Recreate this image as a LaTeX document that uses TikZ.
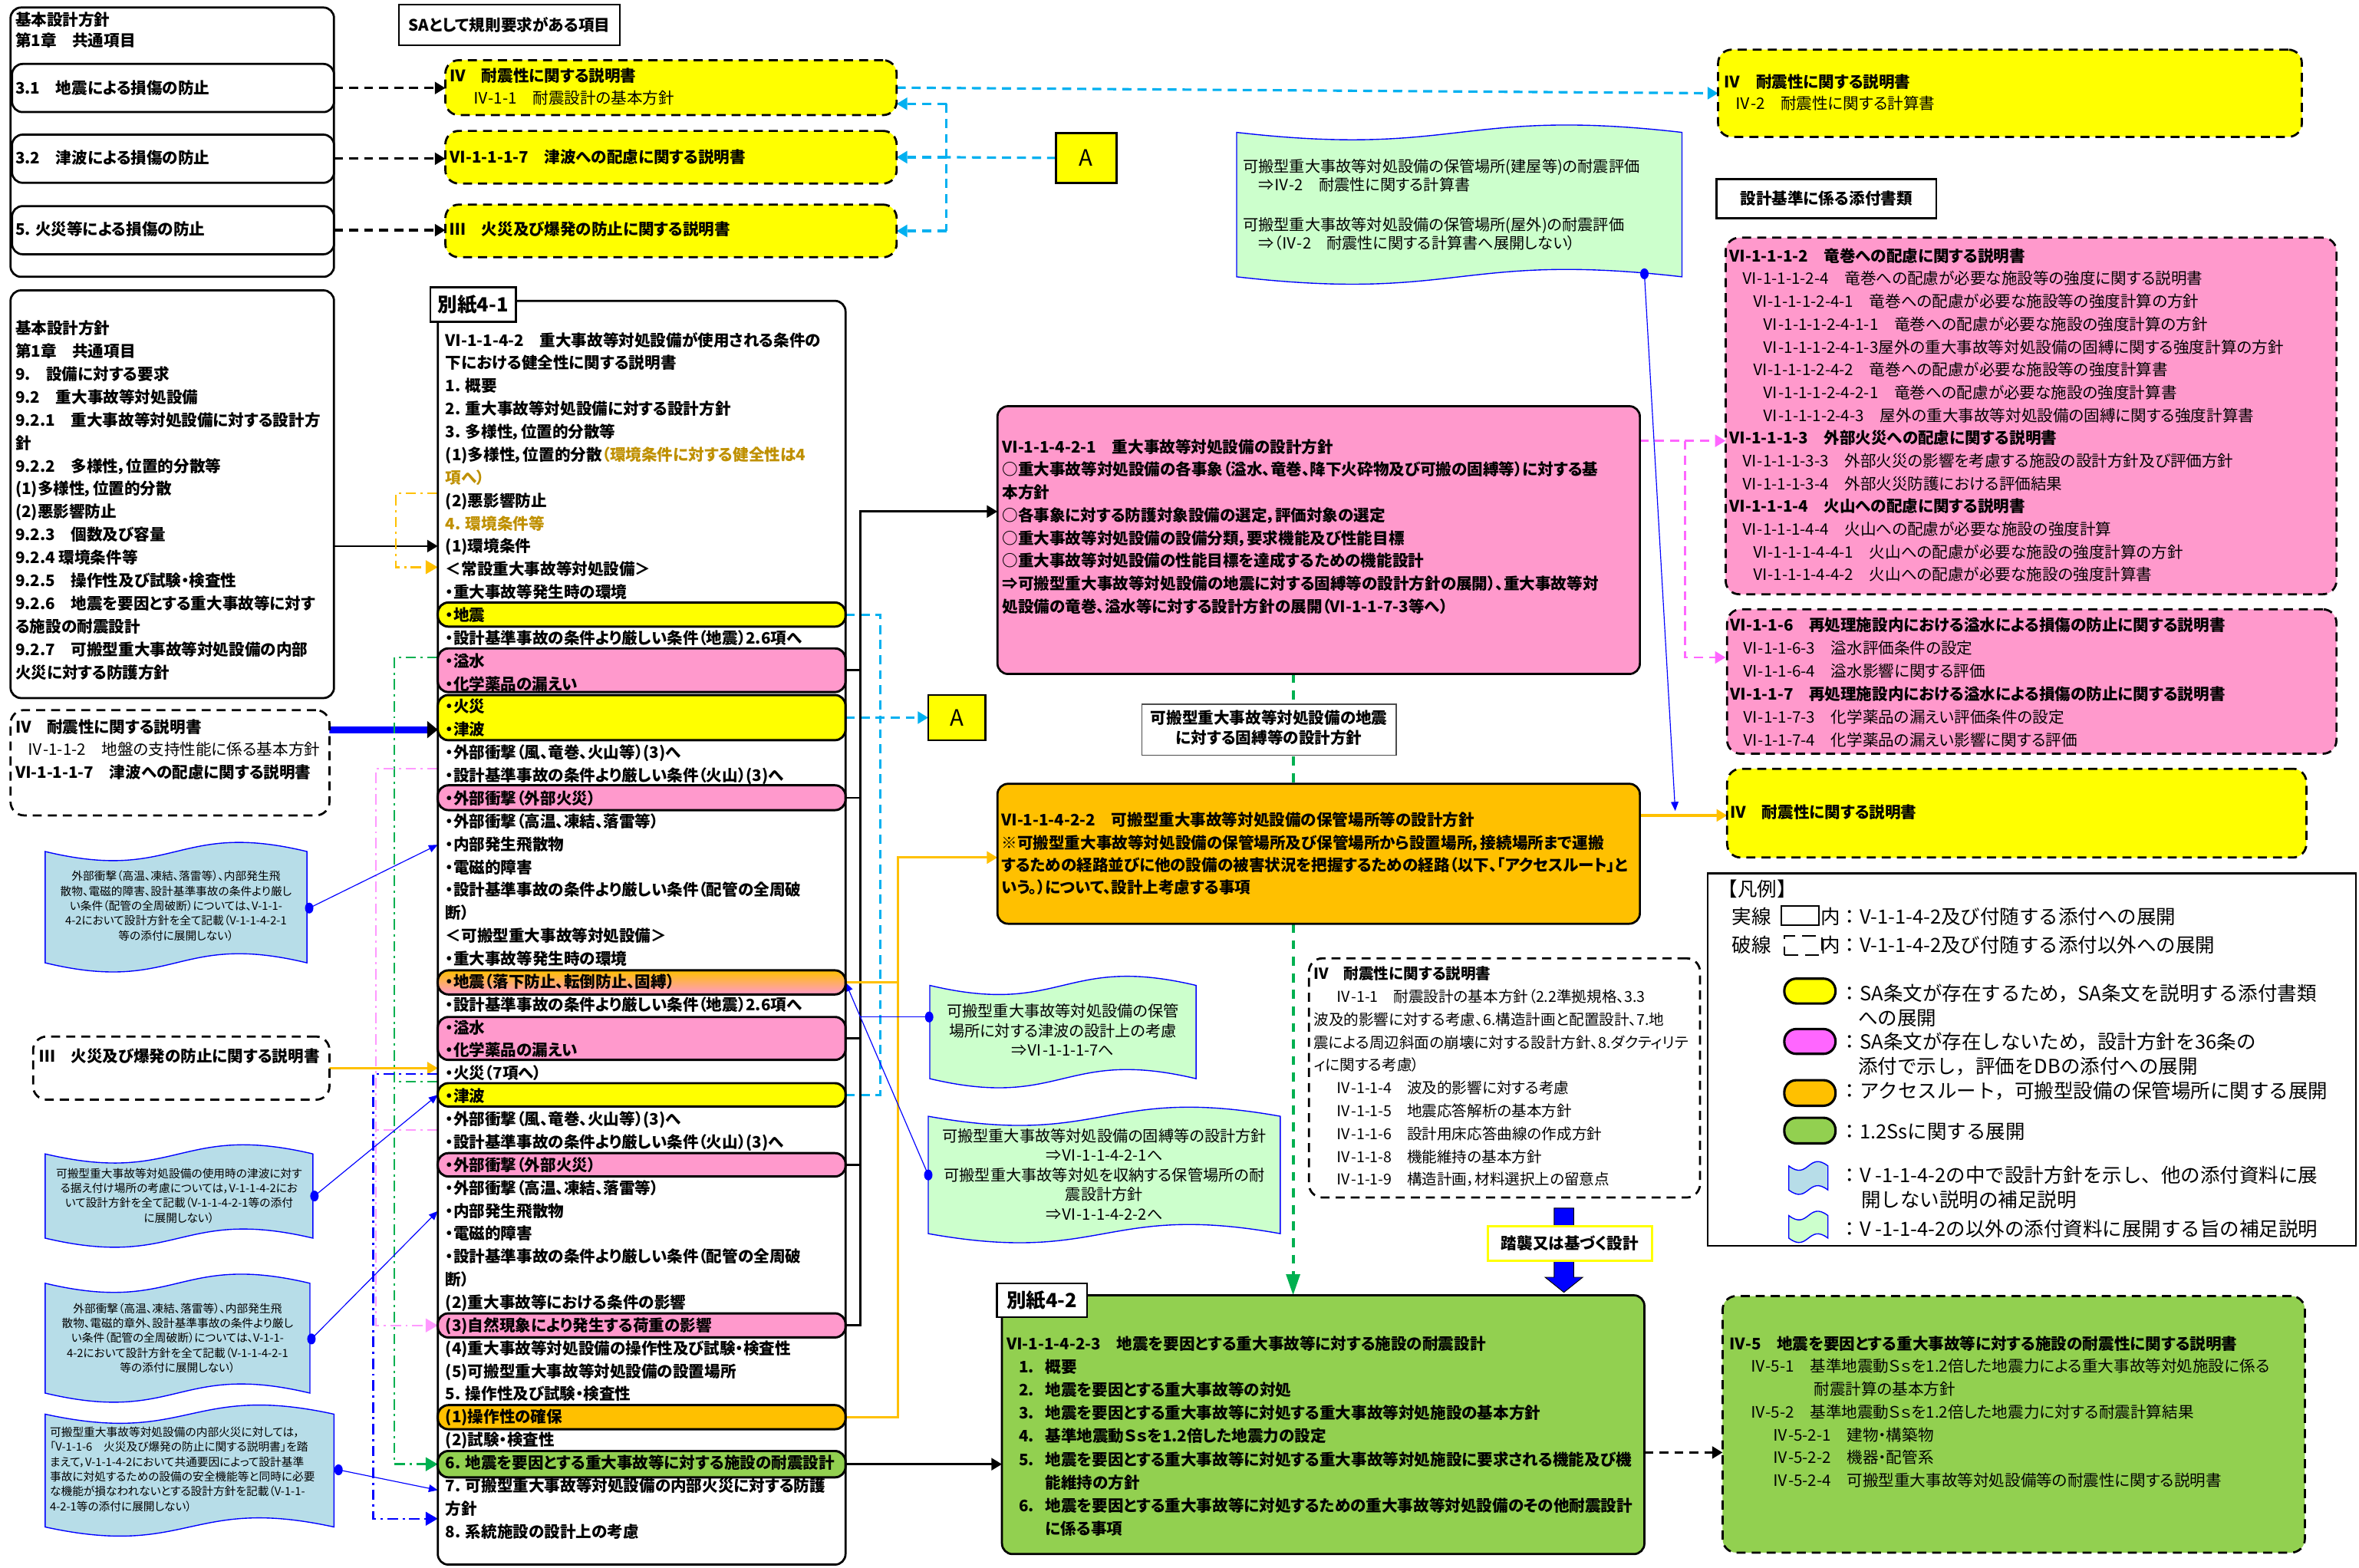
\documentclass[tikz,border=0pt]{standalone}
\usepackage{fontspec}
\setmainfont{Noto Sans CJK JP}[RawFeature={+palt}]
\newfontfamily\legfont{Noto Sans CJK JP}
\usetikzlibrary{arrows.meta}
\pgfdeclarelayer{bg}
\pgfsetlayers{bg,main}

\definecolor{cyellow}{HTML}{FFFF00}
\definecolor{cpink}{HTML}{FF99CC}
\definecolor{cmag}{HTML}{FF66FF}
\definecolor{corange}{HTML}{FFC000}
\definecolor{cgreen}{HTML}{92D050}
\definecolor{clblue}{HTML}{B7DDE8}
\definecolor{clgreen}{HTML}{CCFFCC}
\definecolor{ccyan}{HTML}{00B0F0}
\definecolor{cgold}{HTML}{BF9000}
\definecolor{cpinkl}{HTML}{FF99FF}
\definecolor{cdgreen}{HTML}{00B050}

\newcommand\fB{\fontsize{10.5}{15.23}\selectfont\bfseries}
\newcommand\fN{\fontsize{10.5}{15.23}\selectfont}
\newcommand\fL{\legfont\fontsize{13}{16}\selectfont}
\newcommand\fS{\fontsize{7.5}{9.85}\selectfont}

% multi-line blocks whose baseline is the first line
\newcommand\ml[1]{\begin{tabular}[t]{@{}l@{}}#1\end{tabular}}
\newcommand\mc[1]{\begin{tabular}[t]{@{}c@{}}#1\end{tabular}}

% rectangle node given by its top-left and bottom-right corners
\newcommand\mkbox[6]{%
  \pgfmathsetmacro\bxw{#5-#3}\pgfmathsetmacro\bxh{#6-#4}%
  \node[#1,anchor=north west,minimum width=\bxw pt,minimum height=\bxh pt,
        inner sep=0pt,outer sep=0pt] (#2) at (#3,#4) {};}

% wavy "punched tape" note: name, fill, x1, top, x2, bottom, wave control offset
\newcommand\wavedoc[7]{%
  \pgfmathsetmacro\wvm{(#3+#5)/2}%
  \pgfmathsetmacro\wvta{#4+#7}\pgfmathsetmacro\wvtb{#4-#7}%
  \pgfmathsetmacro\wvba{#6+#7}\pgfmathsetmacro\wvbb{#6-#7}%
  \pgfmathsetmacro\wvc{(#4+#6)/2}%
  \draw[draw=blue, line width=0.7pt, fill=#2]
    (#3,#4) .. controls (\wvm,\wvta) and (\wvm,\wvtb) .. (#5,#4)
    -- (#5,#6) .. controls (\wvm,\wvbb) and (\wvm,\wvba) .. (#3,#6) -- cycle;
  \coordinate (#1) at (\wvm,\wvc);}

\tikzset{
  solidbox/.style={draw=black, line width=1.4pt, rounded corners=7pt, fill=white},
  dashbox/.style={draw=black, line width=1.4pt, dash pattern=on 6pt off 4pt, rounded corners=9pt, fill=white},
  rowbox/.style={draw=black, line width=1.5pt, rounded corners=7pt},
  tagbox/.style={draw=black, line width=1.3pt, fill=white},
  pill/.style={draw=black, line width=1.6pt, rounded corners=8pt},
  tb/.style={anchor=base west, inner sep=0pt, font=\fB},
  tn/.style={anchor=base west, inner sep=0pt, font=\fN},
  tc/.style={anchor=base, inner sep=0pt},
  arw/.style={-{Triangle[length=7pt,width=8pt]}},
  arwL/.style={-{Triangle[length=8pt,width=9pt]}},
  arwS/.style={-{Triangle[length=6pt,width=5pt]}},
  blk/.style={draw=black, line width=1.4pt},
  blkdash/.style={draw=black, line width=1.6pt, dash pattern=on 6pt off 4pt},
  cydash/.style={draw=ccyan, line width=1.6pt, dash pattern=on 6pt off 4pt},
  mgdash/.style={draw=cmag, line width=1.4pt, dash pattern=on 6pt off 4pt},
  grdash/.style={draw=cdgreen, line width=2pt, dash pattern=on 6pt off 5pt},
  ddline/.style={line width=1.2pt, dash pattern=on 7pt off 3pt on 1.5pt off 3pt},
  orline/.style={draw=corange, line width=1.6pt},
  bthin/.style={draw=blue, line width=0.6pt},
}

\begin{document}
\begin{tikzpicture}[x=1pt,y=-1pt]
\useasboundingbox (0,0) rectangle (1568,1042);
\begin{pgfonlayer}{bg}
\fill[white] (0,0) rectangle (1568,1042);
\end{pgfonlayer}

%---------------- top left: basic design policy, chapter 1 ----------------
\mkbox{solidbox}{L1}{7}{5}{222}{184}
\node[tb, font=\fontsize{10.5}{13.6}\selectfont\bfseries] (L1t) at (10,17) {\ml{基本設計方針\\第1章　共通項目}};
\mkbox{solidbox}{in31}{8}{42.5}{222}{74.5}
\node[tb] (in31t) at (10,62.5) {3.1　地震による損傷の防止};
\mkbox{solidbox}{in32}{8}{89.5}{222}{121.5}
\node[tb] (in32t) at (10,109) {3.2　津波による損傷の防止};
\mkbox{solidbox}{in5}{8}{137}{222}{169}
\node[tb] (in5t) at (10,156.5) {5. 火災等による損傷の防止};

\mkbox{draw=black, line width=1.2pt}{SAh}{265}{3}{412}{30}
\node[font=\fB] (SAt) at (SAh.center) {SAとして規則要求がある項目};

\mkbox{dashbox,fill=cyellow}{Y1}{296}{40}{596}{76.5}
\node[tb] (Y1a) at (299,54.4) {Ⅳ　耐震性に関する説明書};
\node[tn] (Y1b) at (314,69.1) {Ⅳ-1-1　耐震設計の基本方針};
\mkbox{dashbox,fill=cyellow}{Y2}{296}{87}{596}{122}
\node[tb] (Y2a) at (299,108.2) {Ⅵ-1-1-1-7　津波への配慮に関する説明書};
\mkbox{dashbox,fill=cyellow}{Y3}{296}{136}{596}{171}
\node[tb] (Y3a) at (299,156.3) {Ⅲ　火災及び爆発の防止に関する説明書};

\mkbox{draw=black, line width=1.4pt, fill=cyellow}{A1}{702}{88.5}{742}{121.5}
\node[font=\fontsize{15}{17}\selectfont] (A1t) at (A1.center) {A};

%---------------- left column ----------------
\mkbox{solidbox}{L2}{7}{193}{222}{464}
\node[tb, font=\fontsize{10.5}{15.27}\selectfont\bfseries] (L2t) at (10,222) {\ml{基本設計方針\\第1章　共通項目\\9.　設備に対する要求\\9.2　重大事故等対処設備\\9.2.1　重大事故等対処設備に対する設計方\\針\\9.2.2　多様性，位置的分散等\\(1)多様性，位置的分散\\(2)悪影響防止\\9.2.3　個数及び容量\\9.2.4 環境条件等\\9.2.5　操作性及び試験・検査性\\9.2.6　地震を要因とする重大事故等に対す\\る施設の耐震設計\\9.2.7　可搬型重大事故等対処設備の内部\\火災に対する防護方針}};

\mkbox{dashbox}{L3}{7}{472}{219}{542}
\node[tn, font=\fontsize{10.5}{15.1}\selectfont] (L3t) at (10,487) {\ml{\textbf{Ⅳ　耐震性に関する説明書}\\\hspace*{8pt}Ⅳ-1-1-2　地盤の支持性能に係る基本方針\\\textbf{Ⅵ-1-1-1-7　津波への配慮に関する説明書}}};

\mkbox{dashbox}{L4}{22}{689}{219}{731}
\node[tb] (L4t) at (26,706) {Ⅲ　火災及び爆発の防止に関する説明書};

\wavedoc{b1}{clblue}{30}{566}{204}{640}{21}
\node[tc, font=\fS] (b1t) at (117,585.3) {\mc{外部衝撃（高温、凍結、落雷等）、内部発生飛\\散物、電磁的障害、設計基準事故の条件より厳し\\い条件（配管の全周破断）については、V-1-1-\\4-2において設計方針を全て記載（V-1-1-4-2-1\\等の添付に展開しない）}};
\wavedoc{b2}{clblue}{30}{767}{208}{823}{21}
\node[tc, font=\fS] (b2t) at (119,782.8) {\mc{可搬型重大事故等対処設備の使用時の津波に対す\\る据え付け場所の考慮については，V-1-1-4-2にお\\いて設計方針を全て記載（V-1-1-4-2-1等の添付\\に展開しない）}};
\wavedoc{b3}{clblue}{30}{853}{206}{926}{21}
\node[tc, font=\fS] (b3t) at (118,872.6) {\mc{外部衝撃（高温、凍結、落雷等）、内部発生飛\\散物、電磁的章外、設計基準事故の条件より厳し\\い条件（配管の全周破断）については、V-1-1-\\4-2において設計方針を全て記載（V-1-1-4-2-1\\等の添付に展開しない）}};
\wavedoc{b4}{clblue}{30}{940}{222}{1015}{21}
\node[anchor=base west, inner sep=0pt, font=\fS] (b4t) at (33,954.8) {\ml{可搬型重大事故等対処設備の内部火災に対しては，\\「V-1-1-6　火災及び爆発の防止に関する説明書」を踏\\まえて，V-1-1-4-2において共通要因によって設計基準\\事故に対処するための設備の安全機能等と同時に必要\\な機能が損なわれないとする設計方針を記載（V-1-1-\\4-2-1等の添付に展開しない）}};

%---------------- attachment 4-1 ----------------
\mkbox{solidbox}{mainA}{291}{200}{562}{1040}
\mkbox{rowbox,fill=cyellow}{rJ1}{291}{400.5}{562}{416.5}
\mkbox{rowbox,fill=cpink}{rSuiA}{291}{431}{562}{460}
\mkbox{rowbox,fill=cyellow}{rKT}{291}{462}{562}{492}
\mkbox{rowbox,fill=cpink}{rGK1}{291}{522}{562}{538.5}
\mkbox{rowbox,top color=corange,bottom color=cpink}{rJ2}{291}{645}{562}{661}
\mkbox{rowbox,fill=cpink}{rSuiB}{291}{676}{562}{704.5}
\mkbox{rowbox,fill=cyellow}{rT2}{291}{720}{562}{735.5}
\mkbox{rowbox,fill=cpink}{rGK2}{291}{766.5}{562}{782}
\mkbox{rowbox,fill=cpink}{rSz}{291}{873}{562}{889}
\mkbox{rowbox,fill=corange}{rSousa}{291}{934}{562}{950}
\mkbox{rowbox,fill=cgreen}{r6}{291}{964.5}{562}{982}

\node[tb] (mainT) at (296,230) {\ml{Ⅵ-1-1-4-2　重大事故等対処設備が使用される条件の\\下における健全性に関する説明書\\1. 概要\\2. 重大事故等対処設備に対する設計方針\\3. 多様性，位置的分散等\\(1)多様性，位置的分散{\color{cgold}（環境条件に対する健全性は4}\\{\color{cgold}項へ）}\\(2)悪影響防止\\{\color{cgold}4. 環境条件等}\\(1)環境条件\\＜常設重大事故等対処設備＞\\・重大事故等発生時の環境\\・地震\\・設計基準事故の条件より厳しい条件（地震）2.6項へ\\・溢水\\・化学薬品の漏えい\\・火災\\・津波\\・外部衝撃（風、竜巻、火山等）(3)へ\\・設計基準事故の条件より厳しい条件（火山）(3)へ\\・外部衝撃（外部火災）\\・外部衝撃（高温、凍結、落雷等）\\・内部発生飛散物\\・電磁的障害\\・設計基準事故の条件より厳しい条件（配管の全周破\\断）\\＜可搬型重大事故等対処設備＞\\・重大事故等発生時の環境\\・地震（落下防止、転倒防止、固縛）\\・設計基準事故の条件より厳しい条件（地震）2.6項へ\\・溢水\\・化学薬品の漏えい\\・火災（7項へ）\\・津波\\・外部衝撃（風、竜巻、火山等）(3)へ\\・設計基準事故の条件より厳しい条件（火山）(3)へ\\・外部衝撃（外部火災）\\・外部衝撃（高温、凍結、落雷等）\\・内部発生飛散物\\・電磁的障害\\・設計基準事故の条件より厳しい条件（配管の全周破\\断）\\(2)重大事故等における条件の影響\\(3)自然現象により発生する荷重の影響\\(4)重大事故等対処設備の操作性及び試験・検査性\\(5)可搬型重大事故等対処設備の設置場所\\5. 操作性及び試験・検査性\\(1)操作性の確保\\(2)試験・検査性\\6. 地震を要因とする重大事故等に対する施設の耐震設計\\7. 可搬型重大事故等対処設備の内部火災に対する防護\\方針\\8. 系統施設の設計上の考慮}};

\mkbox{tagbox}{MAh}{286}{191}{343}{214}
\node[font=\fontsize{13}{15}\selectfont\bfseries] (MAht) at (MAh.center) {別紙4-1};

\mkbox{draw=black, line width=1.4pt, fill=cyellow}{A2}{617}{462}{655}{492}
\node[font=\fontsize{15}{17}\selectfont] (A2t) at (A2.center) {A};

%---------------- middle column ----------------
\wavedoc{gdoc}{clgreen}{822}{88}{1118}{184}{17}
\node[tn, font=\fontsize{10.3}{12.4}\selectfont] (gdocA) at (826,114.5) {\ml{可搬型重大事故等対処設備の保管場所(建屋等)の耐震評価\\　⇒Ⅳ-2　耐震性に関する計算書}};
\node[tn, font=\fontsize{10.3}{12.4}\selectfont] (gdocB) at (826,153) {\ml{可搬型重大事故等対処設備の保管場所(屋外)の耐震評価\\　⇒（Ⅳ-2　耐震性に関する計算書へ展開しない）}};

\mkbox{solidbox,fill=cpink}{PM}{663}{270}{1090}{448}
\node[tb, font=\fontsize{10.5}{15.14}\selectfont\bfseries] (PMt) at (666,301) {\ml{Ⅵ-1-1-4-2-1　重大事故等対処設備の設計方針\\○重大事故等対処設備の各事象（溢水、竜巻、降下火砕物及び可搬の固縛等）に対する基\\本方針\\○各事象に対する防護対象設備の選定，評価対象の選定\\○重大事故等対処設備の設備分類，要求機能及び性能目標\\○重大事故等対処設備の性能目標を達成するための機能設計\\⇒可搬型重大事故等対処設備の地震に対する固縛等の設計方針の展開）、重大事故等対\\処設備の竜巻、溢水等に対する設計方針の展開（Ⅵ-1-1-7-3等へ）}};

\mkbox{solidbox,fill=corange}{OM}{663}{521}{1090}{614}
\node[tb, font=\fontsize{10.5}{15}\selectfont\bfseries] (OMt) at (665.5,549) {\ml{Ⅵ-1-1-4-2-2　可搬型重大事故等対処設備の保管場所等の設計方針\\※可搬型重大事故等対処設備の保管場所及び保管場所から設置場所，接続場所まで運搬\\するための経路並びに他の設備の被害状況を把握するための経路（以下、「アクセスルート」と\\いう。）について、設計上考慮する事項}};

\wavedoc{w1}{clgreen}{618}{655}{795}{717}{21}
\node[tc, font=\fontsize{10.3}{13}\selectfont] (w1t) at (706.5,676) {\mc{可搬型重大事故等対処設備の保管\\場所に対する津波の設計上の考慮\\⇒Ⅵ-1-1-1-7へ}};
\wavedoc{w2}{clgreen}{617}{742}{851}{820}{21}
\node[tc, font=\fontsize{10.3}{13}\selectfont] (w2t) at (734,759) {\mc{可搬型重大事故等対処設備の固縛等の設計方針\\⇒Ⅵ-1-1-4-2-1へ\\可搬型重大事故等対処を収納する保管場所の耐\\震設計方針\\⇒Ⅵ-1-1-4-2-2へ}};

\mkbox{dashbox}{IVm}{870}{637}{1130}{796}
\node[tn, font=\fontsize{10}{15.2}\selectfont] (IVmt) at (873,651) {\ml{\textbf{Ⅳ　耐震性に関する説明書}\\\hspace*{15pt}Ⅳ-1-1　耐震設計の基本方針（2.2準拠規格、3.3\\波及的影響に対する考慮、6.構造計画と配置設計、7.地\\震による周辺斜面の崩壊に対する設計方針、8.ダクティリテ\\ィに関する考慮）\\\hspace*{15pt}Ⅳ-1-1-4　波及的影響に対する考慮\\\hspace*{15pt}Ⅳ-1-1-5　地震応答解析の基本方針\\\hspace*{15pt}Ⅳ-1-1-6　設計用床応答曲線の作成方針\\\hspace*{15pt}Ⅳ-1-1-8　機能維持の基本方針\\\hspace*{15pt}Ⅳ-1-1-9　構造計画，材料選択上の留意点}};

\mkbox{solidbox,fill=cgreen}{G1}{666}{861}{1093}{1033}
\node[tb, font=\fontsize{10.5}{15.4}\selectfont\bfseries] (G1t) at (669,897) {\ml{Ⅵ-1-1-4-2-3　地震を要因とする重大事故等に対する施設の耐震設計\\\hspace*{8pt}\makebox[17.6pt][l]{1.}概要\\\hspace*{8pt}\makebox[17.6pt][l]{2.}地震を要因とする重大事故等の対処\\\hspace*{8pt}\makebox[17.6pt][l]{3.}地震を要因とする重大事故等に対処する重大事故等対処施設の基本方針\\\hspace*{8pt}\makebox[17.6pt][l]{4.}基準地震動Ｓｓを1.2倍した地震力の設定\\\hspace*{8pt}\makebox[17.6pt][l]{5.}地震を要因とする重大事故等に対処する重大事故等対処施設に要求される機能及び機\\\hspace*{25.6pt}能維持の方針\\\hspace*{8pt}\makebox[17.6pt][l]{6.}地震を要因とする重大事故等に対処するための重大事故等対処設備のその他耐震設計\\\hspace*{25.6pt}に係る事項}};
\mkbox{tagbox}{G1h}{662.5}{853}{722.5}{875.5}
\node[font=\fontsize{13}{15}\selectfont\bfseries] (G1ht) at (G1h.center) {別紙4-2};

%---------------- right column ----------------
\mkbox{dashbox,fill=cyellow}{Y4}{1142}{33}{1530}{91}
\node[tb] (Y4a) at (1146,58.5) {Ⅳ　耐震性に関する説明書};
\node[tn] (Y4b) at (1153,72.5) {Ⅳ-2　耐震性に関する計算書};

\mkbox{draw=black, line width=1.2pt}{DBh}{1141}{119}{1287}{145}
\node[font=\fB] (DBt) at (DBh.center) {設計基準に係る添付書類};

\mkbox{dashbox,fill=cpink}{P1}{1147}{158}{1553}{395}
\node[tn, font=\fontsize{10.5}{15.14}\selectfont] (P1t) at (1149.5,174) {\ml{\textbf{Ⅵ-1-1-1-2　竜巻への配慮に関する説明書}\\\hspace*{8pt}Ⅵ-1-1-1-2-4　竜巻への配慮が必要な施設等の強度に関する説明書\\\hspace*{15pt}Ⅵ-1-1-1-2-4-1　竜巻への配慮が必要な施設等の強度計算の方針\\\hspace*{22pt}Ⅵ-1-1-1-2-4-1-1　竜巻への配慮が必要な施設の強度計算の方針\\\hspace*{22pt}Ⅵ-1-1-1-2-4-1-3屋外の重大事故等対処設備の固縛に関する強度計算の方針\\\hspace*{15pt}Ⅵ-1-1-1-2-4-2　竜巻への配慮が必要な施設等の強度計算書\\\hspace*{22pt}Ⅵ-1-1-1-2-4-2-1　竜巻への配慮が必要な施設の強度計算書\\\hspace*{22pt}Ⅵ-1-1-1-2-4-3　屋外の重大事故等対処設備の固縛に関する強度計算書\\\textbf{Ⅵ-1-1-1-3　外部火災への配慮に関する説明書}\\\hspace*{8pt}Ⅵ-1-1-1-3-3　外部火災の影響を考慮する施設の設計方針及び評価方針\\\hspace*{8pt}Ⅵ-1-1-1-3-4　外部火災防護における評価結果\\\textbf{Ⅵ-1-1-1-4　火山への配慮に関する説明書}\\\hspace*{8pt}Ⅵ-1-1-1-4-4　火山への配慮が必要な施設の強度計算\\\hspace*{15pt}Ⅵ-1-1-1-4-4-1　火山への配慮が必要な施設の強度計算の方針\\\hspace*{15pt}Ⅵ-1-1-1-4-4-2　火山への配慮が必要な施設の強度計算書}};

\mkbox{dashbox,fill=cpink}{P2}{1148}{405}{1553}{501}
\node[tn, font=\fontsize{10.5}{15.3}\selectfont] (P2t) at (1150,419.5) {\ml{\textbf{Ⅵ-1-1-6　再処理施設内における溢水による損傷の防止に関する説明書}\\\hspace*{8pt}Ⅵ-1-1-6-3　溢水評価条件の設定\\\hspace*{8pt}Ⅵ-1-1-6-4　溢水影響に関する評価\\\textbf{Ⅵ-1-1-7　再処理施設内における溢水による損傷の防止に関する説明書}\\\hspace*{8pt}Ⅵ-1-1-7-3　化学薬品の漏えい評価条件の設定\\\hspace*{8pt}Ⅵ-1-1-7-4　化学薬品の漏えい影響に関する評価}};

\mkbox{dashbox,fill=cyellow}{Y5}{1148}{511}{1533}{570}
\node[tb] (Y5a) at (1150,544) {Ⅳ　耐震性に関する説明書};

% legend
\mkbox{draw=black, line width=1.2pt, fill=white}{leg}{1135}{580.5}{1566}{828}
\node[tn, font=\fL] (lg0) at (1142,596) {【凡例】};
\node[tn, font=\fL] (lg1a) at (1151,614) {実線};
\mkbox{draw=black, line width=1pt}{lgS}{1184}{602}{1209}{615}
\node[tn, font=\fL] (lg1b) at (1210,614) {内：V-1-1-4-2及び付随する添付への展開};
\node[tn, font=\fL] (lg2a) at (1151,633) {破線};
\mkbox{draw=black, line width=1pt, dash pattern=on 9pt off 5pt}{lgD}{1186}{622}{1211}{635}
\node[tn, font=\fL] (lg2b) at (1210,633) {内：V-1-1-4-2及び付随する添付以外への展開};
\mkbox{pill,fill=cyellow}{lgY}{1186}{650.5}{1220}{667}
\mkbox{pill,fill=cmag}{lgM}{1186}{684}{1220}{700.5}
\mkbox{pill,fill=corange}{lgO}{1186}{718}{1220}{735}
\mkbox{pill,fill=cgreen}{lgG}{1186}{743}{1220}{760}
\node[tn, font=\fL] (lg3) at (1223,665) {：SA条文が存在するため，SA条文を説明する添付書類};
\node[tn, font=\fL] (lg3b) at (1235,681.5) {への展開};
\node[tn, font=\fL] (lg4) at (1223,697.5) {：SA条文が存在しないため，設計方針を36条の};
\node[tn, font=\fL] (lg4b) at (1235,713.5) {添付で示し，評価をDBの添付への展開};
\node[tn, font=\fL] (lg5) at (1223,729.8) {：アクセスルート，可搬型設備の保管場所に関する展開};
\node[tn, font=\fL] (lg6) at (1223,757) {：1.2Ssに関する展開};
\wavedoc{lgB}{clblue}{1189}{775}{1215}{791}{10}
\wavedoc{lgL}{clgreen}{1189}{808}{1215}{823}{10}
\node[tn, font=\fL] (lg7) at (1223,786) {：V -1-1-4-2の中で設計方針を示し、他の添付資料に展};
\node[tn, font=\fL] (lg7b) at (1237,802.5) {開しない説明の補足説明};
\node[tn, font=\fL] (lg8) at (1223,821.6) {：V -1-1-4-2の以外の添付資料に展開する旨の補足説明};

\mkbox{dashbox,fill=cgreen}{G2}{1145}{861.5}{1532}{1032}
\node[tn, font=\fontsize{10.5}{15.17}\selectfont] (G2t) at (1149.5,897) {\ml{\textbf{Ⅳ-5　地震を要因とする重大事故等に対する施設の耐震性に関する説明書}\\\hspace*{13.5pt}Ⅳ-5-1　基準地震動Ｓｓを1.2倍した地震力による重大事故等対処施設に係る\\\hspace*{56pt}耐震計算の基本方針\\\hspace*{13.5pt}Ⅳ-5-2　基準地震動Ｓｓを1.2倍した地震力に対する耐震計算結果\\\hspace*{28.5pt}Ⅳ-5-2-1　建物・構築物\\\hspace*{28.5pt}Ⅳ-5-2-2　機器・配管系\\\hspace*{28.5pt}Ⅳ-5-2-4　可搬型重大事故等対処設備等の耐震性に関する説明書}};

%---------------- connector end points ----------------
\coordinate (cKankyo) at (291,363);
\coordinate (cAku) at (291,328);
\coordinate (cJousetsu) at (291,377);
\coordinate (cGr) at (291,437);
\coordinate (cGr7) at (291,719);
\coordinate (cPk1) at (291,511);
\coordinate (cPk2) at (291,751);
\coordinate (cKasai7) at (291,714);
\coordinate (c8) at (291,1009.5);
\coordinate (cNaibu1) at (291,561.5);
\coordinate (cNaibu2) at (291,805);
\coordinate (c7) at (291,990.5);
\coordinate (cBlueThick) at (291,485);
\coordinate (cA1) at (629,69);
\coordinate (cA2) at (629,104.5);
\coordinate (cA3) at (629,153.5);
\coordinate (cCy) at (585,477);
\coordinate (cOr) at (597,570);
\coordinate (cTrunk) at (572,340);
\coordinate (cPM) at (1120,293);
\coordinate (cP2) at (1147,437);
\coordinate (cOY) at (1120,542);
\coordinate (cYv) at (1113.5,539);
\coordinate (cGx) at (859.5,500);
\coordinate (cG12) at (1120,965.5);
\coordinate (cW1) at (572,676);
\coordinate (dB1) at (205.5,603.6);
\coordinate (dB2) at (209,795);
\coordinate (dB3) at (207,890);
\coordinate (dB4) at (225,977);
\coordinate (dW1) at (617.6,676);
\coordinate (dW2) at (617,781);
\coordinate (dG) at (1093,182);

\begin{pgfonlayer}{bg}
% section 3 items to SA documents
\draw[blkdash, arw] (in31.east) -- (in31.east -| Y1.west);
\draw[blkdash, arw] (in32.east) -- (in32.east -| Y2.west);
\draw[blkdash, arw] (in5.east) -- (in5.east -| Y3.west);
\draw[cydash, arw] (Y1.east) -- (Y4.west);
\draw[cydash] (A1.west) -- (cA2);
\draw[cydash] (cA1) -- (cA3);
\draw[cydash, arw] (cA1) -- (cA1 -| Y1.east);
\draw[cydash, arw] (cA2) -- (cA2 -| Y2.east);
\draw[cydash, arw] (cA3) -- (cA3 -| Y3.east);
% into attachment 4-1
\draw[blk, arw] (L2.east |- cKankyo) -- (cKankyo);
\draw[blue, line width=4.5pt, -{Triangle[length=7pt,width=11pt,color=black]}] (L3.east |- cBlueThick) -- (cBlueThick);
\draw[orline, arw] (L4.east) -- (L4.east -| mainA.west);
\draw[ddline, draw=corange, arwL] (cAku) -- ++(-28,0) |- (cJousetsu);
\draw[ddline, draw=cdgreen, arwL] (cGr) -- ++(-29,0) |- (r6.west);
\draw[ddline, draw=cdgreen] (cGr7) -- ++(-29,0);
\draw[ddline, draw=cpinkl, arwL] (cPk1) -- ++(-41,0) |- (rSz.west);
\draw[ddline, draw=cpinkl] (cPk2) -- ++(-41,0);
\draw[ddline, draw=blue, arwL] (cKasai7) -- ++(-43,0) |- (c8);
\draw[bthin, arwS] (dB1) -- (cNaibu1);
\draw[bthin, arwS] (dB2) -- (rT2.west);
\draw[bthin, arwS] (dB3) -- (cNaibu2);
\draw[bthin, arwS] (dB4) -- (c7);
% out of attachment 4-1
\draw[cydash] (rJ1.east) -| (cCy);
\draw[cydash] (rT2.east) -| (cCy);
\draw[cydash, arw] (rKT.east) -- (A2.west);
\draw[blk, arw] (rSz.east) -| (cTrunk) -- (cTrunk -| PM.west);
\draw[blk] (rSuiA.east) -- (rSuiA.east -| cTrunk);
\draw[blk] (rGK1.east) -- (rGK1.east -| cTrunk);
\draw[blk] (rSuiB.east) -- (rSuiB.east -| cTrunk);
\draw[blk] (rGK2.east) -- (rGK2.east -| cTrunk);
\draw[blk, arw] (r6.east) -- (r6.east -| G1.west);
\draw[orline, arw] (rJ2.east) -| (cOr) -- (cOr -| OM.west);
\draw[orline] (rSousa.east) -| (cOr);
\draw[bthin, arwS] (dW2) -- (rJ2.east);
\draw[bthin] (dW1) -- (cW1);
% middle and right
\draw[mgdash, arw] (PM.east |- cPM) -- (P1.west |- cPM);
\draw[mgdash, arw] (cPM) |- (cP2);
\draw[orline, arw] (OM.east |- cOY) -- (Y5.west |- cOY);
\draw[bthin, arwS] (dG) -- (cYv);
\draw[grdash] (PM.south -| cGx) -- (OM.north -| cGx);
\draw[grdash, -{Triangle[length=14pt,width=9pt]}] (OM.south -| cGx) -- (G1.north -| cGx);
\draw[blkdash, arw] (G1.east |- cG12) -- (G2.west |- cG12);
\end{pgfonlayer}

% anchor dots of the notes
\foreach \d in {dB1,dB2,dB3,dB4,dW1,dW2,dG}
  \fill[blue] (\d) ellipse [x radius=2.8pt, y radius=3.6pt];

% label over the dashed green link
\mkbox{draw=gray!60!black, line width=0.8pt, fill=white}{lab}{759}{468}{928}{502}
\node[font=\fontsize{10.5}{13.5}\selectfont\bfseries] (labt) at (lab.center) {\begin{tabular}{@{}c@{}}可搬型重大事故等対処設備の地震\\に対する固縛等の設計方針\end{tabular}};

% block arrow with its label
\fill[blue, draw=black, line width=0.5pt] (1033,803) -- (1046,803) -- (1046,849) -- (1052,849) -- (1039.5,859) -- (1027,849) -- (1033,849) -- cycle;
\mkbox{draw=cyellow, line width=1.6pt, fill=white}{tou}{989}{815}{1098}{838}
\node[font=\fB] (tout) at (tou.center) {踏襲又は基づく設計};
\end{tikzpicture}
\end{document}
